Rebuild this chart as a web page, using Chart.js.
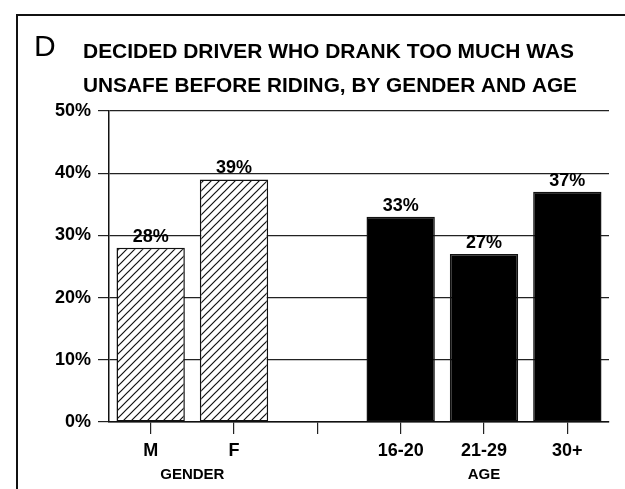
<!DOCTYPE html>
<html>
<head>
<meta charset="utf-8">
<script src="https://cdn.jsdelivr.net/npm/chart.js@4.4.1/dist/chart.umd.min.js"></script>
<style>
  html, body { margin: 0; padding: 0; background: #fff; }
  #wrap { width: 625px; height: 489px; }
</style>
</head>
<body>
<div id="wrap"><canvas id="chart" width="625" height="489"></canvas></div>
<script>
// Data
const categories = ['M', 'F', '', '16-20', '21-29', '30+'];
const values = [28, 39, null, 33, 27, 37];
const groups = ['gender', 'gender', null, 'age', 'age', 'age'];
const groupLabels = [
    { text: 'GENDER', from: 0, to: 1 },
    { text: 'AGE', from: 4, to: 4 }
];
const yTicks = [0, 10, 20, 30, 40, 50];
const titleLines = [
    'DECIDED DRIVER WHO DRANK TOO MUCH WAS',
    'UNSAFE BEFORE RIDING, BY GENDER AND AGE'
];

const FONT = '"Liberation Sans", Arial, sans-serif';

// diagonal hatch for the gender bars
function makeHatch() {
    const c = document.createElement('canvas');
    c.width = 8;
    c.height = 8;
    const g = c.getContext('2d');
    g.fillStyle = '#fff';
    g.fillRect(0, 0, 8, 8);
    g.strokeStyle = '#111';
    g.lineWidth = 1.2;
    g.beginPath();
    g.moveTo(0, 8); g.lineTo(8, 0);
    g.moveTo(-2, 2); g.lineTo(2, -2);
    g.moveTo(6, 10); g.lineTo(10, 6);
    g.stroke();
    return g.createPattern(c, 'repeat');
}

const ctx = document.getElementById('chart').getContext('2d');
const hatch = makeHatch();
const fills = groups.map(g => g === 'gender' ? hatch : '#000');

// frame, big letter and the two title lines
const framePlugin = {
    id: 'frame',
    beforeDraw(chart) {
        const c = chart.ctx;
        c.save();
        c.fillStyle = '#fff';
        c.fillRect(0, 0, chart.width, chart.height);
        c.strokeStyle = '#111';
        c.lineWidth = 2;
        c.beginPath();
        c.moveTo(17, chart.height);
        c.lineTo(17, 15);
        c.lineTo(chart.width, 15);
        c.stroke();

        c.fillStyle = '#000';
        c.textBaseline = 'alphabetic';
        c.textAlign = 'left';
        c.font = 'normal 30px ' + FONT;
        c.fillText('D', 34, 56);
        c.font = 'bold 21px ' + FONT;
        c.fillText(titleLines[0], 83, 58, 491);
        c.fillText(titleLines[1], 83, 92, 494);
        c.restore();
    }
};

// value labels above the bars and the group names below the ticks
const labelPlugin = {
    id: 'valueLabels',
    afterDatasetsDraw(chart) {
        const c = chart.ctx;
        const meta = chart.getDatasetMeta(0);
        c.save();
        c.fillStyle = '#000';
        c.font = 'bold 18px ' + FONT;
        c.textAlign = 'center';
        c.textBaseline = 'alphabetic';
        meta.data.forEach((bar, i) => {
            if (values[i] == null) return;
            c.fillText(values[i] + '%', bar.x, bar.y - 6);
        });

        const xs = chart.scales.x;
        c.font = 'bold 15px ' + FONT;
        c.textBaseline = 'middle';
        groupLabels.forEach(gl => {
            const x = (xs.getPixelForValue(gl.from) + xs.getPixelForValue(gl.to)) / 2;
            c.fillText(gl.text, x, 475);
        });
        c.restore();
    }
};

new Chart(ctx, {
    type: 'bar',
    data: {
        labels: categories,
        datasets: [{
            data: values,
            backgroundColor: fills,
            borderColor: '#111',
            borderWidth: 1.5,
            borderSkipped: false,
            barPercentage: 0.82,
            categoryPercentage: 1
        }]
    },
    options: {
        responsive: false,
        animation: false,
        layout: {
            padding: { top: 111, right: 16, bottom: 0, left: 0 }
        },
        plugins: {
            legend: { display: false },
            tooltip: { enabled: false }
        },
        scales: {
            x: {
                afterFit: s => { s.height = 67; },
                grid: {
                    display: true,
                    offset: false,
                    drawOnChartArea: false,
                    tickLength: 12,
                    color: '#222',
                    lineWidth: 1.2
                },
                border: { display: true, color: '#111', width: 1.5 },
                ticks: {
                    color: '#000',
                    padding: 6,
                    maxRotation: 0,
                    autoSkip: false,
                    font: { family: FONT, size: 18, weight: 'bold' }
                }
            },
            y: {
                min: 0,
                max: 50,
                afterFit: s => { s.width = 109; },
                afterBuildTicks: s => { s.ticks = yTicks.map(v => ({ value: v })); },
                grid: {
                    color: '#222',
                    lineWidth: 1.2,
                    tickLength: 11
                },
                border: { display: true, color: '#111', width: 1.5 },
                ticks: {
                    color: '#000',
                    padding: 7,
                    callback: v => v + '%',
                    font: { family: FONT, size: 18, weight: 'bold' }
                }
            }
        }
    },
    plugins: [framePlugin, labelPlugin]
});
</script>
</body>
</html>
